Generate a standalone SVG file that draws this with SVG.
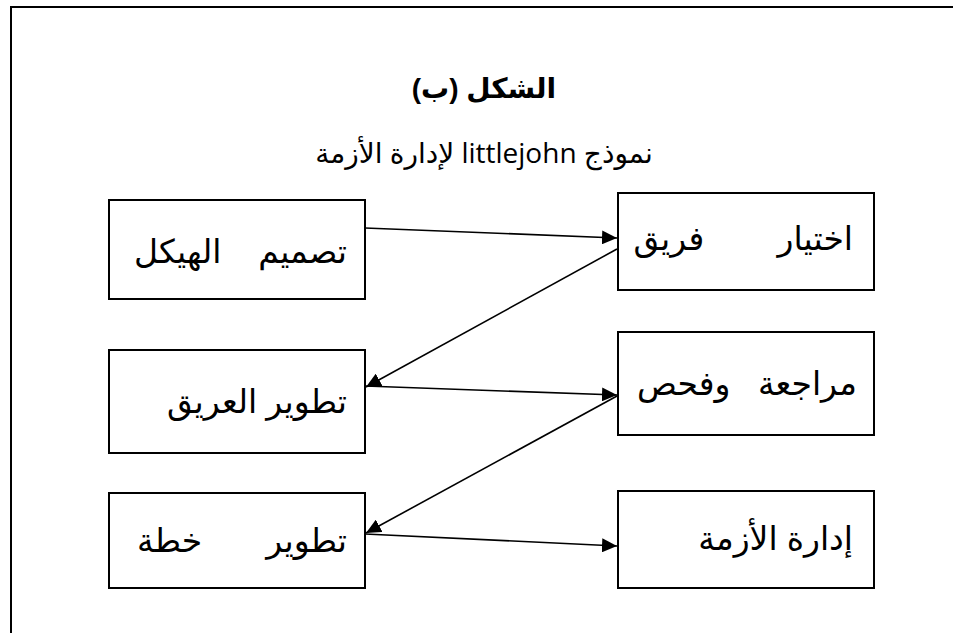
<svg xmlns="http://www.w3.org/2000/svg" width="953" height="633" viewBox="0 0 953 633">
<style>
.frame{fill:none;stroke:#000;stroke-width:2}
.box{fill:#fff;stroke:#000;stroke-width:2}
.lbl{font-family:"Liberation Sans","DejaVu Sans",sans-serif;font-size:33px;fill:#000;white-space:pre}
.title{font-family:"Liberation Sans","DejaVu Sans",sans-serif;font-size:28px;font-weight:bold;fill:#000}
.sub{font-family:"Open Sans","Noto Sans","DejaVu Sans",sans-serif;font-size:28px;fill:#000}
.conn{stroke:#000;stroke-width:1.6;fill:none}
</style>
<defs>
<marker id="ah" markerUnits="userSpaceOnUse" markerWidth="16" markerHeight="14" refX="15" refY="7" orient="auto">
<path d="M0,0 L15,7 L0,14 Z" fill="#000"/>
</marker>
</defs>
<rect width="953" height="633" fill="#fff"/>
<path class="frame" d="M11,633 L11,7 L953,7"/>
<g id="title">
<text class="title" x="484" y="98" text-anchor="middle" direction="rtl">الشكل (ب)</text>
<text class="sub" x="484" y="163" text-anchor="middle" direction="rtl">نموذج littlejohn لإدارة الأزمة</text>
</g>
<g id="connectors">
<line class="conn" x1="365" y1="228" x2="617" y2="238" marker-end="url(#ah)"/>
<line class="conn" x1="617" y1="249" x2="366" y2="387" marker-end="url(#ah)"/>
<line class="conn" x1="365" y1="386" x2="617" y2="395" marker-end="url(#ah)"/>
<line class="conn" x1="617" y1="396" x2="366" y2="533" marker-end="url(#ah)"/>
<line class="conn" x1="365" y1="534" x2="617" y2="546" marker-end="url(#ah)"/>
</g>
<g id="node-design">
<rect class="box" x="109" y="200" width="256" height="99"/>
<text class="lbl" x="347" y="263" direction="rtl" text-anchor="start" xml:space="preserve">تصميم    الهيكل</text>
</g>
<g id="node-team">
<rect class="box" x="618" y="193" width="256" height="97"/>
<text class="lbl" x="853" y="250" direction="rtl" text-anchor="start" xml:space="preserve">اختيار        فريق</text>
</g>
<g id="node-develop">
<rect class="box" x="109" y="350" width="256" height="103"/>
<text class="lbl" x="347" y="413" direction="rtl" text-anchor="start" xml:space="preserve">تطوير العريق</text>
</g>
<g id="node-review">
<rect class="box" x="618" y="332" width="256" height="103"/>
<text class="lbl" x="857" y="395" direction="rtl" text-anchor="start" xml:space="preserve">مراجعة   وفحص</text>
</g>
<g id="node-plan">
<rect class="box" x="109" y="493" width="256" height="95"/>
<text class="lbl" x="347" y="552" direction="rtl" text-anchor="start" xml:space="preserve">تطوير       خطة</text>
</g>
<g id="node-crisis">
<rect class="box" x="618" y="491" width="256" height="97"/>
<text class="lbl" x="853" y="550" direction="rtl" text-anchor="start" xml:space="preserve">إدارة الأزمة</text>
</g>
</svg>
